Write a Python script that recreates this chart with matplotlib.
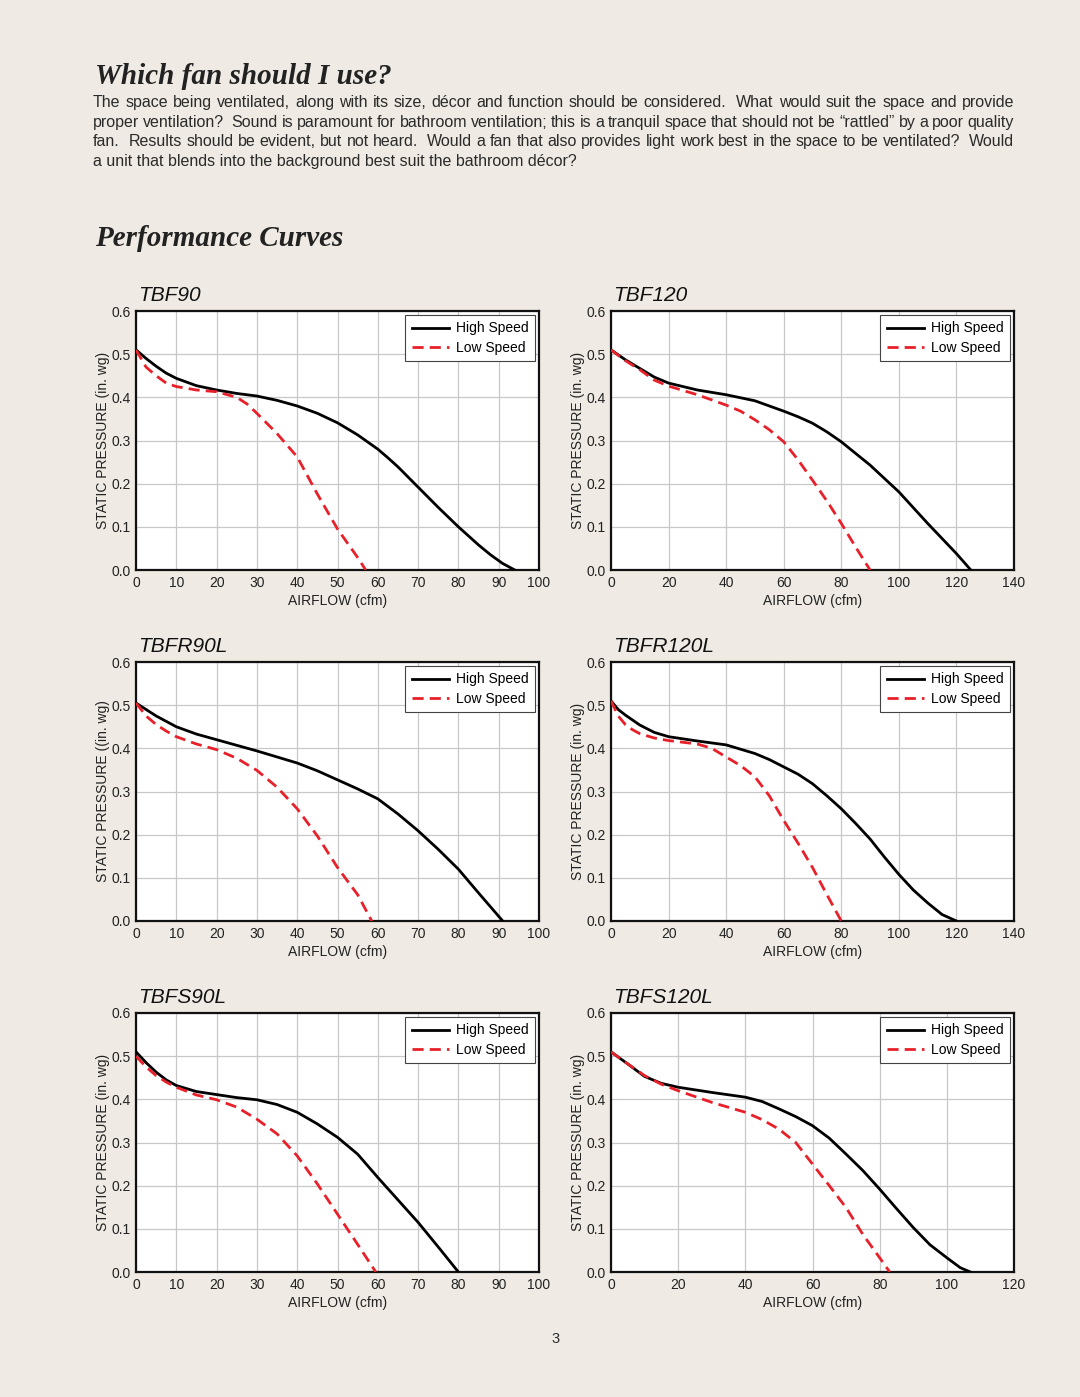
import matplotlib
matplotlib.use("Agg")
import matplotlib.pyplot as plt

plt.rcParams['font.family'] = ['Liberation Sans', 'DejaVu Sans']

BG = '#efebe4'
RED = '#e8202a'

heading = "Which fan should I use?"
intro_lines = [
    "The space being ventilated, along with its size, d\u00e9cor and function should be considered.  What would suit the space and provide",
    "proper ventilation?  Sound is paramount for bathroom ventilation; this is a tranquil space that should not be \u201crattled\u201d by a poor quality",
    "fan.  Results should be evident, but not heard.  Would a fan that also provides light work best in the space to be ventilated?  Would",
    "a unit that blends into the background best suit the bathroom d\u00e9cor?",
]
section = "Performance Curves"

models = ["TBF90", "TBF120", "TBFR90L", "TBFR120L", "TBFS90L", "TBFS120L"]
x_max = [100, 140, 100, 140, 100, 120]
x_step = [10, 20, 10, 20, 10, 20]
y_labels = ["STATIC PRESSURE (in. wg)", "STATIC PRESSURE (in. wg)",
            "STATIC PRESSURE ((in. wg)", "STATIC PRESSURE (in. wg)",
            "STATIC PRESSURE (in. wg)", "STATIC PRESSURE (in. wg)"]

# airflow (cfm) / static pressure (in. wg)
tbf90_high_x = [0, 2.5, 5, 7.5, 10, 15, 20, 25, 30, 35, 40, 45, 50, 55, 60, 62.5, 65, 70, 75, 80, 85, 88, 91, 94]
tbf90_high_y = [0.51, 0.49, 0.472, 0.456, 0.444, 0.427, 0.417, 0.409, 0.403, 0.393, 0.38, 0.363, 0.341, 0.313,
                0.28, 0.26, 0.239, 0.192, 0.145, 0.10, 0.058, 0.035, 0.015, 0.0]
tbf90_low_x = [0, 2.5, 5, 7.5, 10, 15, 20, 25, 27.5, 30, 35, 40, 45, 50, 55, 57]
tbf90_low_y = [0.51, 0.47, 0.45, 0.433, 0.425, 0.417, 0.413, 0.40, 0.385, 0.363, 0.316, 0.262, 0.176, 0.095,
               0.029, 0.0]

tbf120_high_x = [0, 5, 10, 15, 20, 30, 40, 50, 60, 65, 70, 75, 80, 85, 90, 100, 110, 120, 125]
tbf120_high_y = [0.51, 0.487, 0.467, 0.447, 0.433, 0.417, 0.406, 0.392, 0.368, 0.355, 0.34, 0.32, 0.297, 0.27,
                 0.243, 0.181, 0.108, 0.038, 0.0]
tbf120_low_x = [0, 5, 10, 15, 20, 30, 40, 45, 50, 55, 60, 65, 70, 75, 80, 85, 90]
tbf120_low_y = [0.51, 0.485, 0.464, 0.44, 0.426, 0.406, 0.382, 0.368, 0.348, 0.325, 0.297, 0.255, 0.208, 0.16,
                0.108, 0.053, 0.0]

tbfr90l_high_x = [0, 2.5, 5, 10, 15, 20, 30, 40, 45, 50, 55, 60, 65, 70, 75, 80, 85, 91]
tbfr90l_high_y = [0.505, 0.49, 0.475, 0.45, 0.433, 0.42, 0.394, 0.366, 0.348, 0.327, 0.306, 0.283, 0.248,
                  0.209, 0.166, 0.12, 0.065, 0.0]
tbfr90l_low_x = [0, 2.5, 5, 7.5, 10, 15, 20, 25, 30, 35, 40, 45, 50, 55, 58.5]
tbfr90l_low_y = [0.505, 0.475, 0.455, 0.44, 0.427, 0.41, 0.397, 0.377, 0.349, 0.31, 0.26, 0.197, 0.124,
                 0.061, 0.0]

tbfr120l_high_x = [0, 2.5, 5, 10, 15, 20, 30, 40, 50, 55, 60, 65, 70, 75, 80, 85, 90, 95, 100, 105, 110, 115, 120]
tbfr120l_high_y = [0.51, 0.49, 0.477, 0.454, 0.437, 0.427, 0.417, 0.408, 0.388, 0.374, 0.357, 0.34, 0.318,
                   0.29, 0.26, 0.226, 0.19, 0.148, 0.108, 0.072, 0.042, 0.015, 0.0]
tbfr120l_low_x = [0, 2.5, 5, 7.5, 10, 15, 20, 30, 35, 40, 45, 50, 55, 60, 65, 70, 75, 80]
tbfr120l_low_y = [0.51, 0.475, 0.455, 0.443, 0.434, 0.424, 0.418, 0.41, 0.40, 0.38, 0.36, 0.334, 0.29,
                  0.233, 0.18, 0.124, 0.061, 0.0]

tbfs90l_high_x = [0, 2.5, 5, 7.5, 10, 15, 20, 25, 30, 35, 40, 45, 50, 55, 60, 65, 70, 75, 80]
tbfs90l_high_y = [0.51, 0.485, 0.463, 0.445, 0.432, 0.418, 0.411, 0.404, 0.399, 0.388, 0.37, 0.343, 0.312,
                  0.273, 0.219, 0.167, 0.115, 0.058, 0.0]
tbfs90l_low_x = [0, 2.5, 5, 7.5, 10, 15, 20, 25, 30, 35, 40, 45, 50, 55, 59.5]
tbfs90l_low_y = [0.50, 0.475, 0.455, 0.44, 0.428, 0.41, 0.399, 0.382, 0.354, 0.32, 0.269, 0.204, 0.134,
                 0.064, 0.0]

tbfs120l_high_x = [0, 5, 10, 15, 20, 30, 40, 45, 50, 55, 60, 65, 70, 75, 80, 85, 90, 95, 100, 104, 107]
tbfs120l_high_y = [0.51, 0.482, 0.453, 0.437, 0.428, 0.416, 0.405, 0.395, 0.378, 0.36, 0.339, 0.31, 0.273,
                   0.235, 0.192, 0.147, 0.103, 0.063, 0.033, 0.01, 0.0]
tbfs120l_low_x = [0, 5, 10, 15, 20, 30, 40, 45, 50, 55, 60, 65, 70, 75, 80, 83]
tbfs120l_low_y = [0.51, 0.482, 0.455, 0.435, 0.42, 0.393, 0.37, 0.353, 0.331, 0.30, 0.25, 0.20, 0.149,
                  0.087, 0.033, 0.0]

high_x = [tbf90_high_x, tbf120_high_x, tbfr90l_high_x, tbfr120l_high_x, tbfs90l_high_x, tbfs120l_high_x]
high_y = [tbf90_high_y, tbf120_high_y, tbfr90l_high_y, tbfr120l_high_y, tbfs90l_high_y, tbfs120l_high_y]
low_x = [tbf90_low_x, tbf120_low_x, tbfr90l_low_x, tbfr120l_low_x, tbfs90l_low_x, tbfs120l_low_x]
low_y = [tbf90_low_y, tbf120_low_y, tbfr90l_low_y, tbfr120l_low_y, tbfs90l_low_y, tbfs120l_low_y]

W, H = 1080, 1397
fig = plt.figure(figsize=(W / 100, H / 100), dpi=100, facecolor=BG)
renderer = fig.canvas.get_renderer()


def justified_line(x0, x1, y, line, **kw):
    # spread words so the line fills x0..x1 (pixels); a double space counts as two gaps
    tokens = line.split(' ')
    words = [t for t in tokens if t]
    gaps = len(tokens) - 1
    texts = [fig.text(0, y, w, va='baseline', ha='left', **kw) for w in words]
    widths = [t.get_window_extent(renderer).width for t in texts]
    gap = (x1 - x0 - sum(widths)) / gaps
    x = x0
    for tok in tokens:
        if not tok:
            x += gap
            continue
        t = texts.pop(0)
        t.set_x(x / W)
        x += widths.pop(0) + gap


fig.text(95 / W, 1 - 77 / H, heading, fontsize=21, fontweight='bold', fontstyle='italic',
         family='Liberation Serif', va='center', ha='left', color='#222222')
for i, line in enumerate(intro_lines):
    y = 1 - (107 + i * 19.6) / H
    if i < len(intro_lines) - 1:
        justified_line(93, 1014, y, line, fontsize=11.5, color='#2a2a2a')
    else:
        fig.text(93 / W, y, line, fontsize=11.5, va='baseline', ha='left', color='#2a2a2a')
fig.text(95 / W, 1 - 238 / H, section, fontsize=21, fontweight='bold', fontstyle='italic',
         family='Liberation Serif', va='center', ha='left', color='#222222')
fig.text(556 / W, 1 - 1339 / H, "3", fontsize=10.5, ha='center', va='center', color='#2a2a2a')

lefts = [136, 611]
tops = [311, 662, 1013]
aw, ah = 403, 259

for i, name in enumerate(models):
    left = lefts[i % 2]
    top = tops[i // 2]
    ax = fig.add_axes([left / W, 1 - (top + ah) / H, aw / W, ah / H])
    ax.set_facecolor('white')
    ax.plot(high_x[i], high_y[i], color='black', lw=2.0, label='High Speed', zorder=3)
    ax.plot(low_x[i], low_y[i], color=RED, lw=2.0, dashes=(4, 2.2), label='Low Speed', zorder=3)
    ax.set_xlim(0, x_max[i])
    ax.set_ylim(0, 0.6)
    ax.set_xticks(range(0, x_max[i] + 1, x_step[i]))
    ax.set_yticks([0.0, 0.1, 0.2, 0.3, 0.4, 0.5, 0.6])
    ax.set_yticklabels([f"{v:.1f}" for v in ax.get_yticks()])
    ax.tick_params(length=0, labelsize=10, pad=4, colors='#222222')
    ax.grid(True, color='#c8c8c8', lw=0.9)
    ax.set_axisbelow(True)
    for sp in ax.spines.values():
        sp.set_linewidth(1.6)
        sp.set_color('#111111')
    ax.set_xlabel("AIRFLOW (cfm)", fontsize=10, labelpad=3, color='#222222')
    ax.set_ylabel(y_labels[i], fontsize=10, labelpad=1, color='#222222')
    ax.text(0.005, 1.025, name, transform=ax.transAxes, fontsize=15, fontstyle='italic',
            ha='left', va='bottom', color='#111111')
    leg = ax.legend(loc='upper right', fontsize=10, handlelength=2.7, borderaxespad=0.3,
                    fancybox=False, framealpha=1, edgecolor='#444444', borderpad=0.45,
                    labelspacing=0.4, handletextpad=0.5)
    leg.get_frame().set_linewidth(0.8)

fig.savefig("out.png", dpi=100, facecolor=BG)
